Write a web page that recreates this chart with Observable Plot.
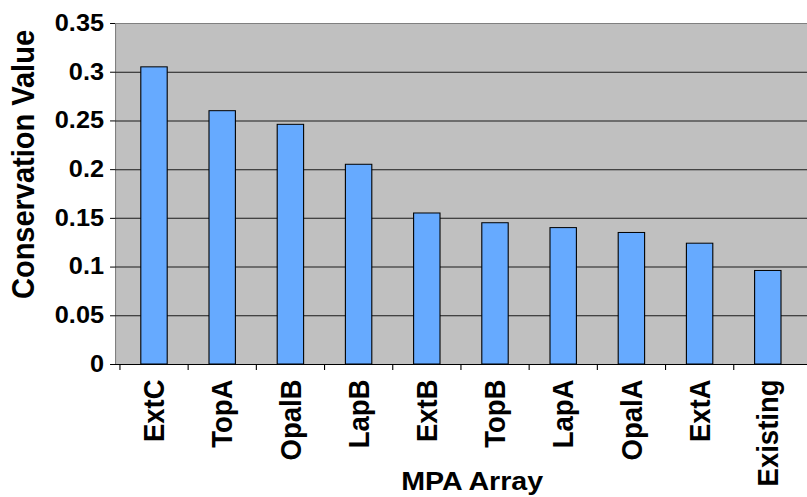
<!DOCTYPE html>
<html><head><meta charset="utf-8">
<script src="https://cdn.jsdelivr.net/npm/d3@7"></script>
<script src="https://cdn.jsdelivr.net/npm/@observablehq/plot@0.6"></script>
<style>body{margin:0;background:#fff} #chart svg{display:block}</style>
</head><body><div id="chart"></div>
<script>
const categories = ["ExtC","TopA","OpalB","LapB","ExtB","TopB","LapA","OpalA","ExtA","Existing"];
const values = [0.305,0.26,0.246,0.205,0.155,0.145,0.14,0.135,0.124,0.096];
const yTicks = [0,0.05,0.1,0.15,0.2,0.25,0.3,0.35];
const xLabel = "MPA Array";
const yLabel = "Conservation Value";

const S = 1.1, W = 807, H = 497;
const W0 = W / S;
const mL = 115 / S, mR = 0, mT = 23, mB = 133;
const step = (W0 - mL - mR) / categories.length;
const data = categories.map((c, i) => ({c, v: values[i]}));
const font = "'Liberation Sans', Arial, sans-serif";

const plot = Plot.plot({
  width: W0, height: H, marginLeft: mL, marginRight: mR, marginTop: mT, marginBottom: mB,
  style: {fontFamily: font, fontWeight: "bold", color: "#000", background: "#fff", overflow: "visible"},
  x: {domain: categories, paddingInner: 0.61, paddingOuter: 0.305, label: null},
  y: {domain: [0, 0.35], label: null},
  marks: [
    Plot.frame({fill: "#c0c0c0", stroke: "#808080"}),
    Plot.ruleY(yTicks.slice(1, -1), {stroke: "#1a1a1a", strokeWidth: 1}),
    Plot.barY(data, {x: "c", y: "v", fill: "#66aaff", stroke: "#000", strokeWidth: 1}),
    Plot.ruleY([0], {stroke: "#000"}),
    Plot.ruleX(categories, {x: d => d, y1: 0, y2: 0, dx: -step / 2, insetBottom: -6, stroke: "#000"}),
    Plot.axisY({ticks: yTicks, tickFormat: d => String(d), tickSize: 4.5, tickPadding: 6, fontSize: 23, fontWeight: "bold", label: null}),
    Plot.axisX({tickSize: 0, tickRotate: -90, tickPadding: 15, fontSize: 27.5, fontWeight: "bold", label: null}),
    Plot.text([xLabel], {text: d => d, frameAnchor: "bottom", textAnchor: "middle", dy: 125, dx: 9.6, fontSize: 26, fontWeight: "bold"}),
    Plot.text([yLabel], {text: d => d, frameAnchor: "left", textAnchor: "middle", rotate: -90, dx: -83.3, dy: -29.5, fontSize: 29, fontWeight: "bold"})
  ]
});
plot.setAttribute("width", W);
plot.setAttribute("height", H);
plot.setAttribute("preserveAspectRatio", "none");
plot.style.width = W + "px";
plot.style.height = H + "px";
plot.style.maxWidth = "none";
document.getElementById("chart").appendChild(plot);
</script>
</body></html>
